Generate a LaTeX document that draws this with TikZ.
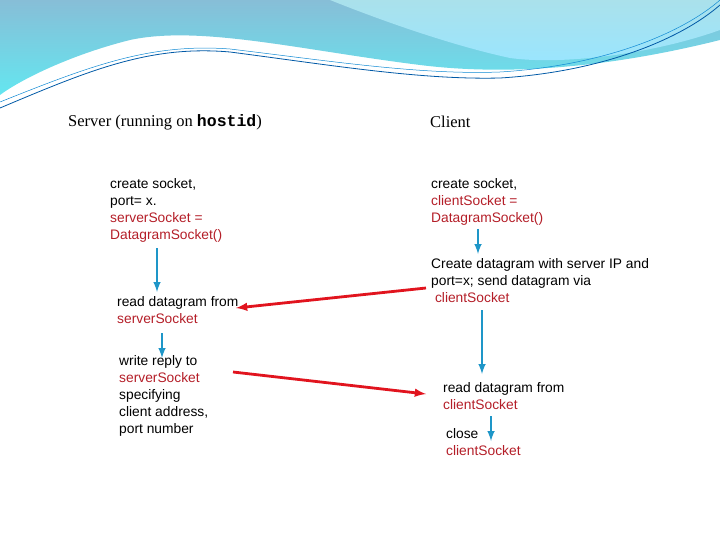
\documentclass[tikz,border=0pt]{standalone}
\usepackage{fontspec}
\setmainfont{Liberation Sans}
\newfontfamily\titlefont{Liberation Serif}
\newfontfamily\codefont{Liberation Mono}
\usetikzlibrary{arrows,positioning}
\definecolor{codered}{RGB}{180,30,40}
\definecolor{flowblue}{RGB}{30,150,200}
\definecolor{msgred}{RGB}{225,20,30}
\definecolor{wavetop}{RGB}{135,190,215}
\definecolor{wavelow}{RGB}{100,230,240}
\definecolor{wavelight}{RGB}{170,225,235}
\tikzset{
  step text/.style={anchor=north west, align=left, inner sep=0pt, font=\fontsize{13.8}{17}\selectfont},
  head text/.style={anchor=north west, inner sep=0pt, font=\titlefont\fontsize{16.5}{19}\selectfont},
  flow/.style={flowblue, line width=2.4pt, -latex},
  msg/.style={msgred, line width=2.8pt, -latex}
}
\newcommand{\sock}[1]{\textcolor{codered}{#1}}
\begin{document}
\begin{tikzpicture}[x=1pt,y=-1pt]
\useasboundingbox (0,0) rectangle (720,540);

% top wave
\shade[top color=wavetop, bottom color=wavelow] (0,0) -- (720,0) -- (720,40)
  .. controls (600,70) and (500,75) .. (420,65) .. controls (300,50) and (200,25) .. (130,40)
  .. controls (70,55) and (20,80) .. (0,95) -- cycle;
\shade[top color=wavelight, bottom color=blue!25!cyan!40] (330,0) -- (720,0) -- (720,30)
  .. controls (650,55) and (560,65) .. (510,58) .. controls (450,45) and (380,20) .. cycle;
\draw[teal!70!blue, line width=0.8pt] (0,108) .. controls (90,70) and (150,45) .. (230,52)
  .. controls (330,65) and (420,80) .. (500,78) .. controls (600,72) and (680,40) .. (720,5);
\draw[cyan!70!blue, line width=0.5pt] (0,102) .. controls (90,66) and (150,43) .. (230,49)
  .. controls (330,61) and (420,75) .. (500,72) .. controls (600,66) and (680,35) .. (720,0);

% server side
\node[head text] (srvTitle) at (68,114) {Server (running on {\codefont\bfseries hostid})};
\node[step text] (srvCreate) at (110,178) {create socket,\\port= x.\\\sock{serverSocket =}\\\sock{DatagramSocket()}};
\node[step text] (srvRead) at (117,296) {read datagram from\\\sock{serverSocket}};
\node[step text] (srvWrite) at (119,355) {write reply to\\\sock{serverSocket}\\specifying\\client address,\\port number};

% client side
\node[head text] (cliTitle) at (430,116) {Client};
\node[step text] (cliCreate) at (431,178) {create socket,\\\sock{clientSocket =}\\\sock{DatagramSocket()}};
\node[step text] (cliSend) at (431,258) {Create datagram with server IP and\\port=x; send datagram via\\\ \sock{clientSocket}};
\node[step text] (cliRead) at (443,382) {read datagram from\\\sock{clientSocket}};
\node[step text] (cliClose) at (446,428) {close\\\sock{clientSocket}};

% flow arrows
\coordinate (f1a) at (157,248); \coordinate (f1b) at (157,292);
\coordinate (f2a) at (162,333); \coordinate (f2b) at (162,358);
\coordinate (f3a) at (478,229); \coordinate (f3b) at (478,254);
\coordinate (f4a) at (482,310); \coordinate (f4b) at (482,374);
\coordinate (f5a) at (491,416); \coordinate (f5b) at (491,441);
\foreach \a/\b in {f1a/f1b, f2a/f2b, f3a/f3b, f4a/f4b, f5a/f5b}
  \draw[flow] (\a) -- (\b);

% messages
\coordinate (m1a) at (426,288); \coordinate (m1b) at (236,308);
\coordinate (m2a) at (233,372); \coordinate (m2b) at (426,394);
\draw[msg] (m1a) -- (m1b);
\draw[msg] (m2a) -- (m2b);
\end{tikzpicture}
\end{document}
